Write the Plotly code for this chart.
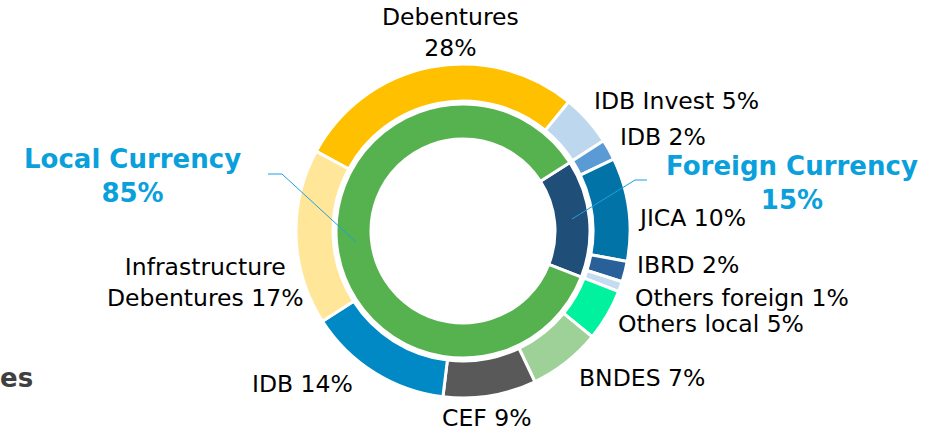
import plotly.graph_objects as go

# ---- data ----
outer_labels = ["Debentures", "IDB Invest", "IDB", "JICA", "IBRD", "Others foreign",
                "Others local", "BNDES", "CEF", "IDB ", "Infrastructure Debentures"]
outer_values = [28, 5, 2, 10, 2, 1, 5, 7, 9, 14, 17]
outer_colors = ["#FFC000", "#BDD7EE", "#5B9BD5", "#0173A6", "#2A6099", "#C5DCF0",
                "#00F29E", "#9DD197", "#595959", "#0089C5", "#FFE699"]

inner_labels = ["Foreign Currency", "Local Currency"]
inner_values = [15, 85]
inner_colors = ["#1F4E79", "#56B14F"]

W, H = 926, 437
CX, CY = 463, 231
R_OUT, R_IN = 167, 127
ROT = -61.5

def px(x):
    return x / W

def py(y):
    return 1 - y / H

fig = go.Figure()
fig.add_trace(go.Pie(
    labels=outer_labels, values=outer_values, sort=False, direction="clockwise",
    rotation=ROT, hole=130 / R_OUT, textinfo="none", hoverinfo="label+percent",
    marker=dict(colors=outer_colors, line=dict(color="white", width=3)),
    domain=dict(x=[px(CX - R_OUT), px(CX + R_OUT)], y=[py(CY + R_OUT), py(CY - R_OUT)]),
    showlegend=False,
))
inner_rot = ROT + sum(outer_values[:2]) / sum(outer_values) * 360
fig.add_trace(go.Pie(
    labels=inner_labels, values=inner_values, sort=False, direction="clockwise",
    rotation=inner_rot, hole=92 / R_IN, textinfo="none", hoverinfo="label+percent",
    marker=dict(colors=inner_colors, line=dict(color="white", width=3)),
    domain=dict(x=[px(CX - R_IN), px(CX + R_IN)], y=[py(CY + R_IN), py(CY - R_IN)]),
    showlegend=False,
))

FONT = "DejaVu Sans"
FS = 23.5
ann = []

def label(text, x, y, xanchor="left", color="black", bold=False, size=FS, align="left"):
    if bold:
        text = "<b>" + text.replace("<br>", "</b><br><b>") + "</b>"
    ann.append(dict(text=text, x=px(x), y=py(y), xref="paper", yref="paper",
                    xanchor=xanchor, yanchor="middle", showarrow=False, align=align,
                    font=dict(family=FONT, size=size, color=color)))

label("Debentures<br>28%", 450, 33, xanchor="center", align="center")
label("IDB Invest 5%", 592, 101)
label("IDB 2%", 618, 137)
label("JICA 10%", 636, 218)
label("IBRD 2%", 635, 265)
label("Others foreign 1%", 633, 298)
label("Others local 5%", 616, 324)
label("BNDES 7%", 577, 378)
label("CEF 9%", 487, 418, xanchor="center")
label("IDB 14%", 302, 384, xanchor="center")
label("Infrastructure<br>Debentures 17%", 205, 282, xanchor="center", align="center")
label("Local Currency<br>85%", 132, 176, xanchor="center", align="center",
      color="#0AA0DC", bold=True, size=26)
label("Foreign Currency<br>15%", 792, 183, xanchor="center", align="center",
      color="#0AA0DC", bold=True, size=26)
label("es", -2, 378, color="#404040", bold=True, size=26)

LINE = "#1BA1E2"
shapes = [
    dict(type="path", xref="paper", yref="paper",
         path=f"M {px(268)} {py(174)} L {px(282)} {py(174)} L {px(356)} {py(242)}",
         line=dict(color=LINE, width=1)),
    dict(type="path", xref="paper", yref="paper",
         path=f"M {px(647)} {py(180)} L {px(635)} {py(180)} L {px(572)} {py(219)}",
         line=dict(color=LINE, width=1)),
]

fig.update_layout(
    width=W, height=H, margin=dict(l=0, r=0, t=0, b=0),
    paper_bgcolor="white", plot_bgcolor="white",
    annotations=ann, shapes=shapes,
)
fig.write_html("out.html", config={"displayModeBar": False},
               post_script="document.body.style.margin='0';document.body.style.overflow='hidden';")
